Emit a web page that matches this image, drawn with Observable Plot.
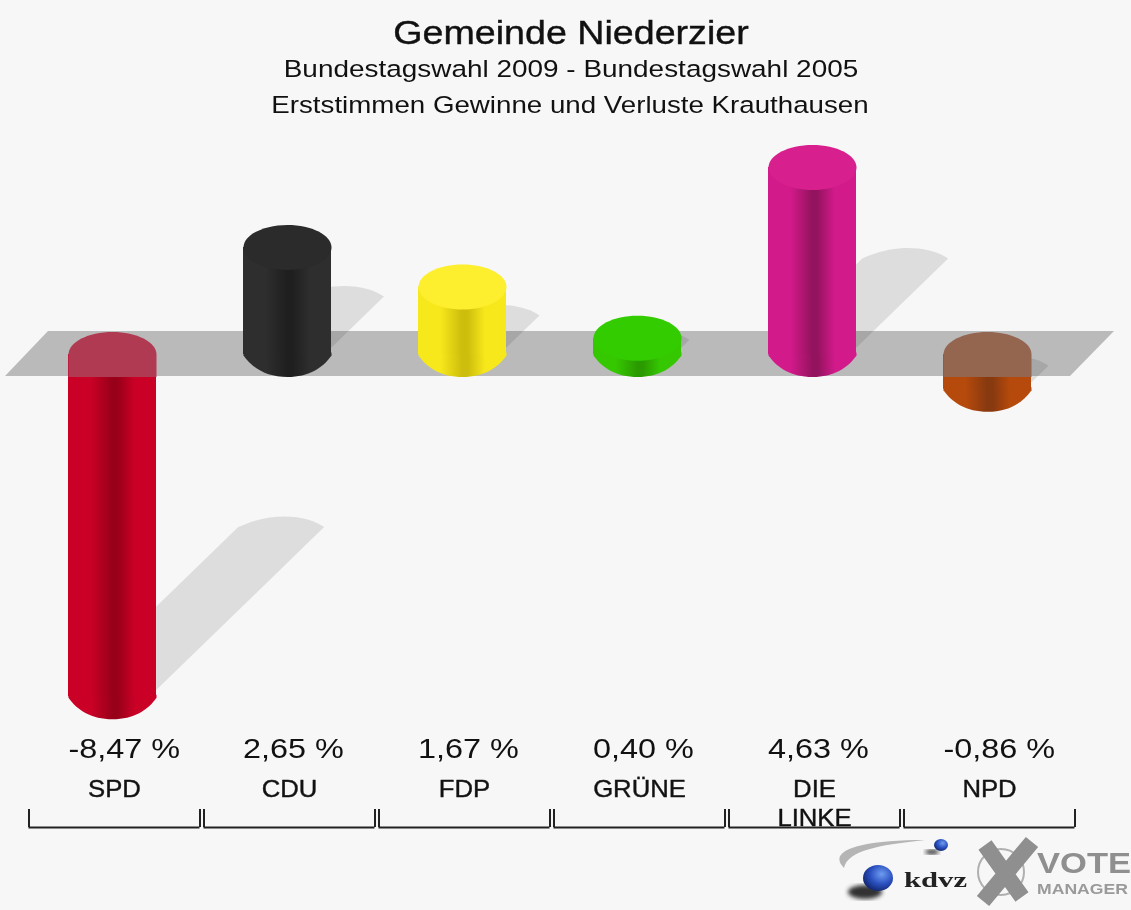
<!DOCTYPE html>
<html><head><meta charset="utf-8">
<script src="https://cdn.jsdelivr.net/npm/d3@7"></script>
<script src="https://cdn.jsdelivr.net/npm/@observablehq/plot@0.6"></script>
<style>
html,body{margin:0;padding:0;background:#f7f7f7;width:1131px;height:910px;overflow:hidden}
#wrap{position:relative;width:1131px;height:910px;font-family:"Liberation Sans",Arial,sans-serif;color:#111;filter:blur(.45px)}
.t{position:absolute;left:0;width:1142px;text-align:center;white-space:nowrap;transform:scaleX(1.14)}
#chart{position:absolute;left:0;top:130px}
#logo{position:absolute;left:830px;top:830px}
</style></head><body>
<div id="wrap">
<div class="t" id="t1" style="top:14px;font-size:33px;-webkit-text-stroke:.4px #111">Gemeinde Niederzier</div>
<div class="t" id="t2" style="top:55px;font-size:24.5px">Bundestagswahl 2009 - Bundestagswahl 2005</div>
<div class="t" id="t3" style="top:91px;font-size:24.3px;left:-1px">Erststimmen Gewinne und Verluste Krauthausen</div>
<div id="chart"></div>
<svg id="logo" width="301" height="80" viewBox="830 830 301 80">
<defs>
<radialGradient id="ball" cx=".62" cy=".35" r=".7"><stop offset="0" stop-color="#6f9cf0"/><stop offset=".55" stop-color="#2a50c0"/><stop offset="1" stop-color="#12256a"/></radialGradient>
<filter id="soft"><feGaussianBlur stdDeviation="2"/></filter>
</defs>
<path d="M844,868C826,850 862,840 925,840C880,845 848,850 844,868Z" fill="#b5b5b5"/>
<ellipse cx="865" cy="892" rx="17" ry="7" fill="#333" filter="url(#soft)"/>
<ellipse cx="878" cy="878" rx="15" ry="13" fill="url(#ball)"/>
<ellipse cx="932" cy="852" rx="7" ry="2.5" fill="#333" filter="url(#soft)"/>
<ellipse cx="941" cy="845" rx="7" ry="6" fill="url(#ball)"/>
<text x="904" y="887" font-family="Liberation Serif" font-weight="700" font-size="22" textLength="63" lengthAdjust="spacingAndGlyphs" fill="#222">kdvz</text>
<circle cx="1001" cy="872" r="23" fill="none" stroke="#b0b0b0" stroke-width="2"/>
<path d="M985,845L1022,897M1032,842L983,901" stroke="#8f8f8f" stroke-width="16" fill="none"/>
<text x="1037" y="873" font-family="Liberation Sans" font-weight="700" font-size="29" textLength="94" lengthAdjust="spacingAndGlyphs" fill="#8f8f8f">VOTE</text>
<text x="1037" y="894" font-family="Liberation Sans" font-weight="700" font-size="15" textLength="91" lengthAdjust="spacingAndGlyphs" fill="#9a9a9a">MANAGER</text>
</svg>
</div>
<script>
// Data
const parties = ["SPD", "CDU", "FDP", "GRÜNE", "DIE LINKE", "NPD"];
const tickLabels = ["SPD", "CDU", "FDP", "GRÜNE", "DIE\nLINKE", "NPD"];
const values = [-8.47, 2.65, 1.67, 0.40, 4.63, -0.86];
const valueLabels = ["-8,47 %", "2,65 %", "1,67 %", "0,40 %", "4,63 %", "-0,86 %"];
// Colours per party: side edge, side shade, top cap, cap under the floor band
const sideColors = ["#cb0027", "#2e2e2e", "#f7e81c", "#35c800", "#d31a8b", "#b64a0c"];
const shadeColors = ["#980019", "#1f1f1f", "#cdbd0c", "#2b9a00", "#94135e", "#87390f"];
const topColors = ["#b03a52", "#2b2b2b", "#fdee2e", "#33cc00", "#d81f8e", "#94654f"];

const table = parties.map((name, i) => ({name, label: tickLabels[i], value: values[i], text: valueLabels[i], i}));

// Layout constants
const RX = 44, RY = 22.5;
const SHX = 19.8, SHY = 19.2;        // shadow shear per unit
const K = 0.5522847;

function ellipsePath(c, a, b) {
  const ka = a * K, kb = b * K;
  c.moveTo(a, 0);
  c.bezierCurveTo(a, -kb, ka, -b, 0, -b);
  c.bezierCurveTo(-ka, -b, -a, -kb, -a, 0);
  c.bezierCurveTo(-a, kb, -ka, b, 0, b);
  c.bezierCurveTo(ka, b, a, kb, a, 0);
  c.closePath();
}
const ellipse = {draw(c) { ellipsePath(c, RX, RY); }};
// chamfered underside of the cylinder
const underside = {draw(c) {
  c.moveTo(RX, -2);
  c.lineTo(RX, 1);
  c.bezierCurveTo(RX * 0.8, RY * 0.6, RX * 0.48, RY, 0, RY);
  c.bezierCurveTo(-RX * 0.48, RY, -RX * 0.8, RY * 0.6, -RX, 1);
  c.lineTo(-RX, -2);
  c.closePath();
}};
// top half of the cylinder seen through the floor band
const capInBand = {draw(c) {
  const ka = RX * K, kb = RY * K;
  c.moveTo(RX, RY);
  c.lineTo(RX, 0);
  c.bezierCurveTo(RX, -kb, ka, -RY, 0, -RY);
  c.bezierCurveTo(-ka, -RY, -RX, -kb, -RX, 0);
  c.lineTo(-RX, RY);
  c.closePath();
}};
// cast shadow: length follows the size of the value
const shadow = (v) => ({draw(c) {
  const sx = SHX * Math.abs(v), sy = SHY * Math.abs(v), y0 = -7;
  const tx = RX + sx, ty = y0 - sy;
  c.moveTo(RX, y0);
  c.lineTo(tx, ty);
  c.bezierCurveTo(tx - 15, ty - 11, tx - 50, ty - 17, tx - 86, ty);
  c.lineTo(tx - 86 - sx, y0);
  c.closePath();
}});

const defsMark = () => {
  const defs = d3.create("svg:defs");
  table.forEach((d) => {
    const g = defs.append("linearGradient").attr("id", "grad" + d.i).attr("x1", 0).attr("x2", 1).attr("y1", 0).attr("y2", 0);
    [[0, sideColors[d.i]], [.25, sideColors[d.i]], [.5, shadeColors[d.i]], [.56, shadeColors[d.i]], [.76, sideColors[d.i]], [1, sideColors[d.i]]]
      .forEach(([o, col]) => g.append("stop").attr("offset", o).attr("stop-color", col));
  });
  return defs.node();
};
// the grey floor: a slanted band around zero
const floorMark = (index, {y}) => {
  const y0 = y(0);
  return d3.create("svg:path")
    .attr("d", `M5,${y0 + 22}L48,${y0 - 23}L1114,${y0 - 23}L1070,${y0 + 22}Z`)
    .attr("fill", "#bababa").node();
};

const chart = Plot.plot({
  width: 1131, height: 780,
  margin: 0,
  style: {background: "transparent", overflow: "visible"},
  x: {type: "band", domain: parties, range: [24.5, 1074.5], padding: 0, round: false, axis: null},
  y: {domain: [-12.5, 5.5], range: [729, 1.8], axis: null},
  marks: [
    defsMark,
    floorMark,
    ...table.map((d) => Plot.dot([d], {
      x: "name", y: (e) => e.value < 0 ? e.value : 0,
      symbol: shadow(d.value), fill: "#000", fillOpacity: 0.1, stroke: "none", r: 5
    })),
    ...table.flatMap((d) => {
      const fill = `url(#grad${d.i})`;
      const low = Math.min(d.value, 0);
      const marks = [
        Plot.dot([d], {x: "name", y: () => low, symbol: underside, fill, stroke: "none", r: 5}),
        Plot.barY([d], {x: "name", y1: () => 0, y2: "value", fill, insetLeft: 43.5, insetRight: 43.5})
      ];
      if (d.value > 0) marks.push(Plot.dot([d], {x: "name", y: "value", symbol: ellipse, fill: topColors[d.i], stroke: "none", r: 5}));
      else marks.push(Plot.dot([d], {x: "name", y: () => 0, symbol: capInBand, fill: topColors[d.i], stroke: "none", r: 5}));
      return marks;
    }),
    Plot.text(table.filter((d) => d.value >= 0), {
      x: "name", text: "text", frameAnchor: "top", dy: 619, dx: 6, lineAnchor: "middle",
      fontSize: 27, fontFamily: "Liberation Sans", fill: "#111"
    }),
    Plot.text(table.filter((d) => d.value < 0), {
      x: "name", text: "text", frameAnchor: "top", dy: 619, dx: -44, textAnchor: "start", lineAnchor: "middle",
      fontSize: 27, fontFamily: "Liberation Sans", fill: "#111"
    }),
    Plot.text(table, {
      x: "name", text: "label", frameAnchor: "top", dy: 646, dx: 2, lineAnchor: "top", lineHeight: 1.2,
      fontSize: 24, fontFamily: "Liberation Sans", fill: "#111", stroke: "#111", strokeWidth: 0.4
    }),
    Plot.ruleX(table, {x: "name", y1: -11.26, y2: -11.71, dx: -83.5, stroke: "#222", strokeWidth: 2}),
    Plot.ruleX(table, {x: "name", y1: -11.26, y2: -11.71, dx: 87.5, stroke: "#222", strokeWidth: 2}),
    Plot.tickY(table, {x: "name", y: () => -11.71, dx: 2, insetLeft: 2, insetRight: 2, stroke: "#222", strokeWidth: 2})
  ]
});
document.getElementById("chart").appendChild(chart);
// the reference's lettering is stretched sideways
const stretch = (size, sx) => chart.querySelectorAll(`g[font-size="${size}"] text`).forEach((t) => {
  t.setAttribute("transform", `${t.getAttribute("transform") || ""} scale(${sx},1)`);
});
stretch(27, 1.2);
stretch(24, 1.07);
</script>
</body></html>
